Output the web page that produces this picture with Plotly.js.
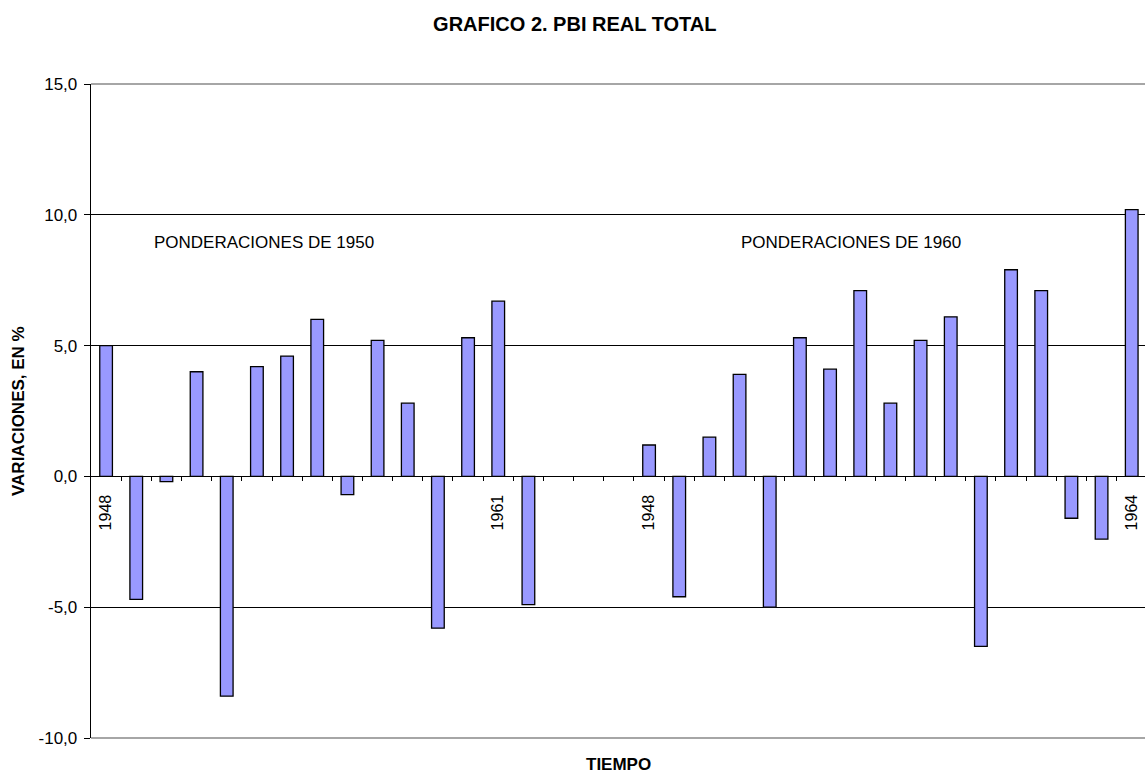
<!DOCTYPE html>
<html>
<head>
<meta charset="utf-8">
<script src="https://cdn.plot.ly/plotly-3.0.1.min.js"></script>
<style>html,body{margin:0;padding:0;background:#fff;}#chart{width:1145px;height:774px;}</style>
</head>
<body>
<div id="chart"></div>
<script>
// ---- data ----
const years1950 = [1948,1949,1950,1951,1952,1953,1954,1955,1956,1957,1958,1959,1960,1961,1962];
const pbi1950   = [5.0,-4.7,-0.2,4.0,-8.4,4.2,4.6,6.0,-0.7,5.2,2.8,-5.8,5.3,6.7,-4.9];
const years1960 = [1948,1949,1950,1951,1952,1953,1954,1955,1956,1957,1958,1959,1960,1961,1962,1963,1964];
const pbi1960   = [1.2,-4.6,1.5,3.9,-5.0,5.3,4.1,7.1,2.8,5.2,6.1,-6.5,7.9,7.1,-1.6,-2.4,10.2];
const gapSlots = 3;
const labeledYears1950 = [1948,1961];
const labeledYears1960 = [1948,1964];
const groupLabels = ['PONDERACIONES DE 1950','PONDERACIONES DE 1960'];
const yTicks = [-10,-5,0,5,10,15];
const yTickText = ['-10,0','-5,0','0,0','5,0','10,0','15,0'];

// ---- positions derived from the arrays ----
const xs1 = years1950.map((y,i)=>i);
const offset2 = years1950.length + gapSlots;
const xs2 = years1960.map((y,i)=>offset2+i);
const nSlots = offset2 + years1960.length;
const tickPos = [], tickTxt = [];
years1950.forEach((y,i)=>{ if(labeledYears1950.includes(y)){tickPos.push(xs1[i]);tickTxt.push(String(y));} });
years1960.forEach((y,i)=>{ if(labeledYears1960.includes(y)){tickPos.push(xs2[i]);tickTxt.push(String(y));} });
const boundaries = [];
for(let i=0;i<nSlots-1;i++) boundaries.push(i+0.5);

const FONT = 'Liberation Sans, Arial, sans-serif';
const barStyle = {color:'#9999FF', line:{color:'#000000', width:1.3}};

const traces = [
  {type:'bar', x: xs1, y: pbi1950, marker: barStyle, width:0.42, hoverinfo:'y', showlegend:false},
  {type:'bar', x: xs2, y: pbi1960, marker: barStyle, width:0.42, hoverinfo:'y', showlegend:false},
  {type:'scatter', x:[0], y:[0], xaxis:'x2', mode:'markers', marker:{opacity:0}, hoverinfo:'skip', showlegend:false}
];

const xRange = [-0.5, nSlots - 0.56];
const zeroPos = (0 - (-10)) / 25;

const layout = {
  width:1145, height:774,
  margin:{l:91, r:0, t:84, b:36},
  paper_bgcolor:'#ffffff', plot_bgcolor:'#ffffff',
  font:{family:FONT, color:'#000'},
  showlegend:false,
  title:{text:'<b>GRAFICO 2. PBI REAL TOTAL</b>', font:{family:FONT, size:20, color:'#000'},
         x:0.502, xanchor:'center', xref:'container', y:1-24/774, yanchor:'middle'},
  xaxis:{
    range:xRange, anchor:'free', position:zeroPos,
    showgrid:false, zeroline:false,
    showline:true, linecolor:'#000', linewidth:1,
    tickmode:'array', tickvals:boundaries, ticks:'outside', ticklen:4, tickcolor:'#000', tickwidth:1,
    showticklabels:false, fixedrange:true
  },
  xaxis2:{
    range:xRange, overlaying:'x', anchor:'free', position:zeroPos, side:'bottom',
    showgrid:false, zeroline:false, showline:false,
    tickmode:'array', tickvals:tickPos, ticktext:tickTxt, tickangle:-90,
    ticks:'outside', ticklen:11, tickcolor:'rgba(0,0,0,0)',
    tickfont:{family:FONT, size:16, color:'#000'}, fixedrange:true
  },
  yaxis:{
    range:[-10,15], tickmode:'array', tickvals:yTicks, ticktext:yTickText,
    showgrid:true, gridcolor:'#000', gridwidth:1, zeroline:false,
    showline:true, linecolor:'#000', linewidth:1.3,
    ticks:'outside', ticklen:6, tickcolor:'#000', ticklabelstandoff:3,
    tickfont:{family:FONT, size:17, color:'#000'}, fixedrange:true
  },
  shapes:[
    {type:'line', xref:'paper', yref:'paper', x0:0, x1:1, y0:1, y1:1, line:{color:'#888', width:1.6}},
    {type:'line', xref:'paper', yref:'paper', x0:0, x1:1, y0:0, y1:0, line:{color:'#888', width:1.6}}
  ],
  annotations:[
    {text:groupLabels[0], xref:'x', yref:'y', x:5.25, y:8.96, showarrow:false,
     xanchor:'center', yanchor:'middle', font:{family:FONT, size:17, color:'#000'}},
    {text:groupLabels[1], xref:'x', yref:'y', x:24.7, y:8.96, showarrow:false,
     xanchor:'center', yanchor:'middle', font:{family:FONT, size:17, color:'#000'}},
    {text:'<b>TIEMPO</b>', xref:'paper', yref:'paper', x:0.5, y:0, yshift:-26, showarrow:false,
     xanchor:'center', yanchor:'middle', font:{family:FONT, size:17, color:'#000'}},
    {text:'<b>VARIACIONES, EN %</b>', xref:'paper', yref:'paper', x:0, xshift:-73, y:0.5, showarrow:false,
     textangle:-90, xanchor:'center', yanchor:'middle', font:{family:FONT, size:17, color:'#000'}}
  ]
};

Plotly.newPlot('chart', traces, layout, {staticPlot:true, displayModeBar:false});
</script>
</body>
</html>
